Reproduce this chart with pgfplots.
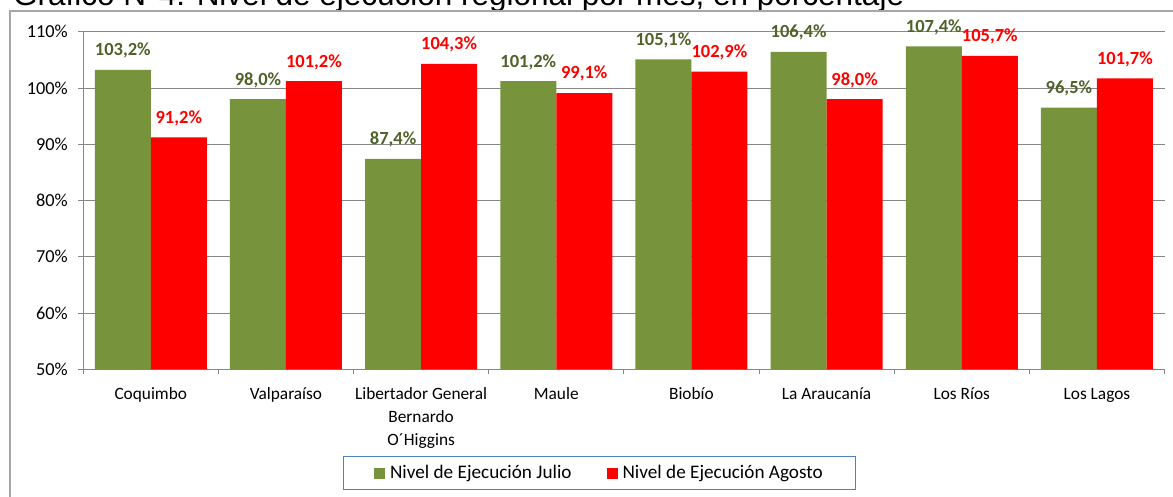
\documentclass[border=0pt]{standalone}
\usepackage{fontspec}
\setmainfont{Carlito}
\newfontfamily\arialfont{Liberation Sans}
\usepackage{pgfplots}
\pgfplotsset{compat=1.18}
\definecolor{bargreen}{HTML}{77933C}
\definecolor{barred}{HTML}{FF0000}
\definecolor{labgreen}{HTML}{4F6228}
\definecolor{gridgray}{HTML}{878787}
\definecolor{framegray}{HTML}{A6A6A6}
\definecolor{legblue}{HTML}{4F81BD}
\newcommand\st{\rule{0pt}{13pt}}
\begin{document}
\begin{tikzpicture}[x=1pt,y=1pt]
\useasboundingbox (0,0) rectangle (1173,497);
\clip (0,0) rectangle (1173,497);
\node[anchor=base west,inner sep=0pt,font=\arialfont\fontsize{31.5}{34}\selectfont] at (13,491.5) {Gráfico N°4: Nivel de ejecución regional por mes, en porcentaje};
\draw[framegray,line width=1.5pt] (9.8,-2) -- (9.8,486) -- (1180,486);
\begin{axis}[
  at={(83.2pt,127.7pt)}, anchor=south west,
  scale only axis, width=1081.4pt, height=337.6pt,
  ybar=0pt, bar width=56pt,
  xmin=-0.5, xmax=7.5, ymin=50, ymax=110,
  ytick={50,60,...,110},
  yticklabel={\pgfmathprintnumber{\tick}\%},
  /pgf/number format/assume math mode=true,
  ymajorgrids, grid style={gridgray,line width=0.8pt},
  axis x line*=bottom, axis y line*=left,
  axis line style={gridgray,line width=0.8pt,-},
  tick align=outside,
  major tick length=5pt, minor tick length=5pt,
  tick style={gridgray,line width=0.8pt},
  xtick={0,...,7},
  x tick style={draw=none},
  minor xtick={-0.5,0.5,...,7.5},
  minor x tick style={draw=gridgray,line width=0.8pt},
  xticklabels={\st Coquimbo,\st Valparaíso,{\st Libertador General\\Bernardo\\O´Higgins},\st Maule,\st Biobío,\st La Araucanía,\st Los Ríos,\st Los Lagos},
  xticklabel style={align=center,font=\fontsize{17.3}{23}\selectfont,anchor=north,yshift=-8.9pt},
  yticklabel style={font=\fontsize{18.3}{21}\selectfont,xshift=-7pt},
  nodes near coords={\pgfmathprintnumber[fixed,fixed zerofill,precision=1,use comma]{\pgfplotspointmeta}\%},
  every node near coord/.append style={font=\bfseries\fontsize{18.5}{21}\selectfont,yshift=8pt},
  clip=false,
  legend columns=2,
  legend style={at={(0.4774,-0.3072)},anchor=center,draw=legblue,line width=0.8pt,
    font=\fontsize{19.2}{22}\selectfont,inner xsep=31pt,inner ysep=7pt,
    /tikz/every odd column/.append style={column sep=3pt},
    /tikz/every even column/.append style={column sep=33pt}},
  legend image code/.code={\fill[#1,draw=none] (0pt,-5.5pt) rectangle (11pt,5.5pt);},
]
\addplot[fill=bargreen,draw=none,every node near coord/.append style={text=labgreen}] coordinates {(0,103.2) (1,98.0) (2,87.4) (3,101.2) (4,105.1) (5,106.4) (6,107.4) (7,96.5)};
\addplot[fill=barred,draw=none,every node near coord/.append style={text=barred}] coordinates {(0,91.2) (1,101.2) (2,104.3) (3,99.1) (4,102.9) (5,98.0) (6,105.7) (7,101.7)};
\legend{Nivel de Ejecución Julio,Nivel de Ejecución Agosto}
\end{axis}
\end{tikzpicture}
\end{document}
